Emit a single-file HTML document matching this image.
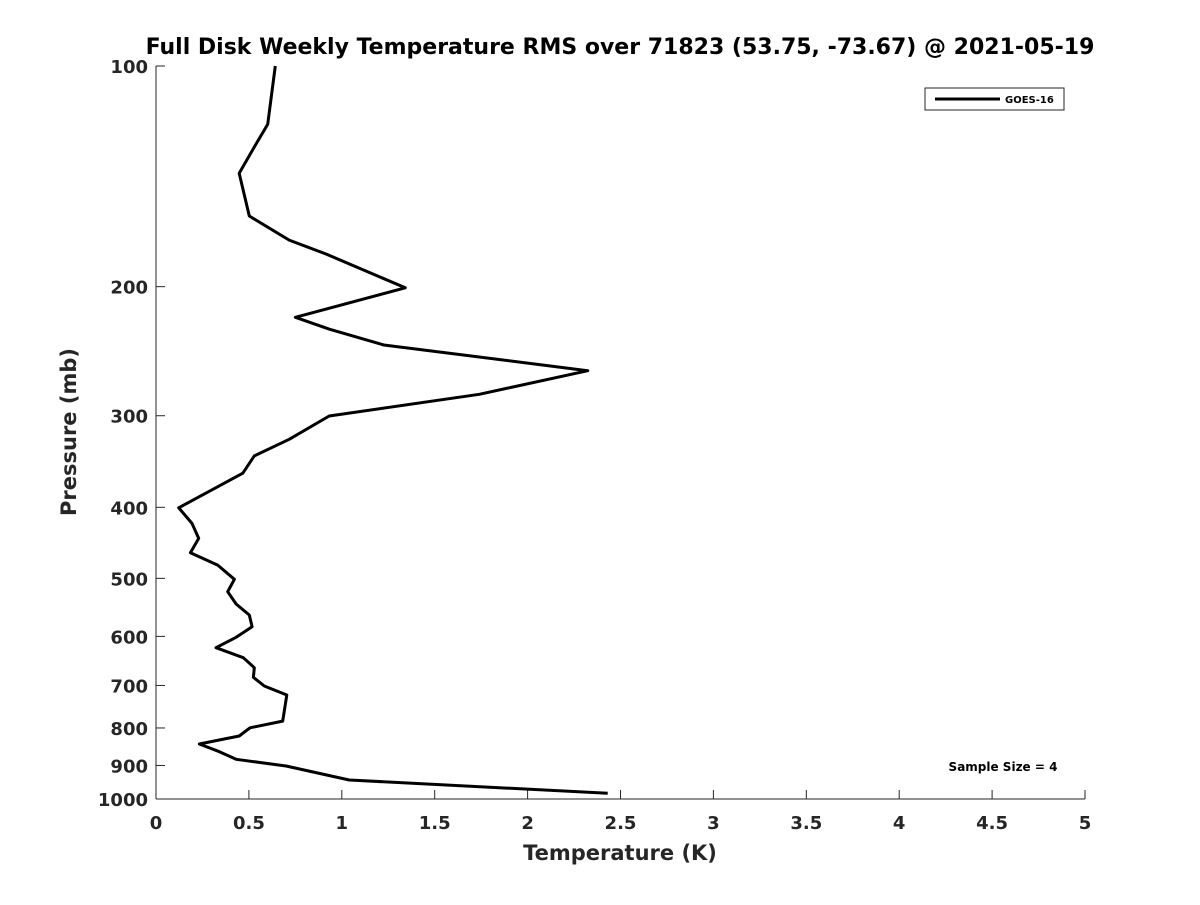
<!DOCTYPE html>
<html><head><meta charset="utf-8"><style>
body{margin:0;background:#fff;font-family:"Liberation Sans","DejaVu Sans",sans-serif}
svg text{font-family:"DejaVu Sans","Liberation Sans",sans-serif;font-weight:bold;fill:#262626}
</style></head><body>
<svg id="chart" width="1200" height="900" viewBox="0 0 1200 900" xmlns="http://www.w3.org/2000/svg">
<rect width="1200" height="900" fill="#fff"/>
<text x="620" y="54" text-anchor="middle" font-size="22" style="fill:#000">Full Disk Weekly Temperature RMS over 71823 (53.75, -73.67) @ 2021-05-19</text>
<g id="axes"></g>
<g id="series"></g>
<g>
<rect x="925" y="88" width="139" height="22" fill="#fff" stroke="#262626" stroke-width="1"/>
<line x1="935" y1="99" x2="1000" y2="99" stroke="#000" stroke-width="3"/>
<text x="1005" y="103" font-size="10" style="fill:#000">GOES-16</text>
</g>
<text x="1003" y="771" text-anchor="middle" font-size="12" style="fill:#000">Sample Size = 4</text>
<text x="620" y="860" text-anchor="middle" font-size="21">Temperature (K)</text>
<text transform="translate(76,432) rotate(-90)" text-anchor="middle" font-size="21">Pressure (mb)</text>
</svg>
<script>
const pressures=[100,120.1,128.2,140.1,160.2,172.8,180.5,200.7,220.2,228.6,240.2,260.4,280.5,300.3,323.1,340.4,359.4,400.6,420.7,441,461.3,479.6,501.5,521.4,542,561,582.1,601.7,621.7,641.5,662,682.3,701.2,721.3,783,799.6,820.4,841.3,862,882.7,901.6,942.1,982.2];
const temps=[0.642,0.601,0.535,0.448,0.502,0.717,0.915,1.342,0.75,0.933,1.226,2.324,1.74,0.932,0.717,0.529,0.467,0.122,0.194,0.23,0.185,0.332,0.422,0.386,0.431,0.502,0.517,0.431,0.323,0.47,0.529,0.524,0.583,0.704,0.682,0.506,0.448,0.233,0.341,0.431,0.7,1.04,2.431];
const xTicks=[0,0.5,1,1.5,2,2.5,3,3.5,4,4.5,5];
const xTickLabels=["0","0.5","1","1.5","2","2.5","3","3.5","4","4.5","5"];
const yTicks=[100,200,300,400,500,600,700,800,900,1000];
const yTickLabels=["100","200","300","400","500","600","700","800","900","1000"];
const X0=156,X1=1085,Y0=66,Y1=799;
const xs=v=>X0+(v-0)/5*(X1-X0);
const ys=p=>Y0+Math.log10(p/100)*(Y1-Y0);
const NS="http://www.w3.org/2000/svg";
const ax=document.getElementById('axes');
function mk(t,a,parent){const e=document.createElementNS(NS,t);for(const k in a)e.setAttribute(k,a[k]);parent.appendChild(e);return e;}
const yl=mk('line',{x1:X0,y1:Y0,x2:X0,y2:Y1,stroke:'#262626','stroke-width':1},ax);


const xl=mk('line',{x1:X0,y1:Y1,x2:X1,y2:Y1,stroke:'#262626','stroke-width':1},ax);


xTicks.forEach((v,i)=>{
 const x=xs(v);
 mk('line',{x1:x,y1:Y1,x2:x,y2:Y1-9,stroke:'#262626'},ax);
 const t=mk('text',{x:x,y:Y1+30,'text-anchor':'middle','font-size':18},ax);
 t.textContent=xTickLabels[i];
 
 
});
yTicks.forEach((p,i)=>{
 const y=ys(p);
 mk('line',{x1:X0,y1:y,x2:X0+9,y2:y,stroke:'#262626'},ax);
 const t=mk('text',{x:X0-8,y:y+7,'text-anchor':'end','font-size':18},ax);
 t.textContent=yTickLabels[i];
 
 
});
const pts=temps.map((t,i)=>xs(t).toFixed(1)+','+ys(pressures[i]).toFixed(1)).join(' ');
const line=mk('polyline',{points:pts,fill:'none',stroke:'#000','stroke-width':3,'stroke-linejoin':'round'},document.getElementById('series'));


</script>
</body></html>
